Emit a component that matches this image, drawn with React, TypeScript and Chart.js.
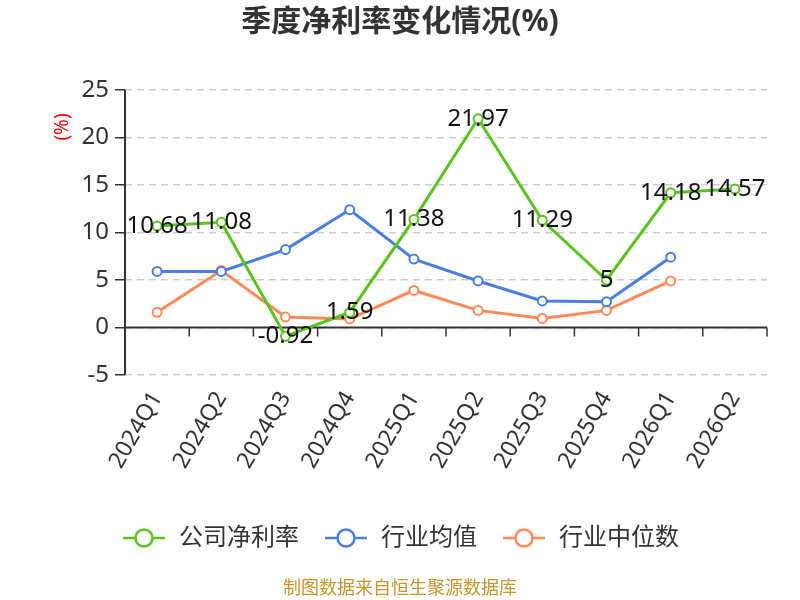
import React, { useEffect, useRef } from "react";
import { Chart, registerables } from "chart.js";

Chart.register(...registerables);

const categories = ["2024Q1", "2024Q2", "2024Q3", "2024Q4", "2025Q1", "2025Q2", "2025Q3", "2025Q4", "2026Q1", "2026Q2"];
const companyNetMargin = [10.68, 11.08, -0.92, 1.59, 11.38, 21.97, 11.29, 5, 14.18, 14.57];
const industryAverage = [5.9, 5.9, 8.2, 12.4, 7.2, 4.9, 2.8, 2.7, 7.4, null];
const industryMedian = [1.6, 6.0, 1.1, 0.9, 3.9, 1.8, 0.95, 1.8, 4.9, null];
const seriesNames = ["公司净利率", "行业均值", "行业中位数"];
const seriesColors = ["#5BC21E", "#4A7FE0", "#FF8A57"];
const titleText = "季度净利率变化情况(%)";
const footerText = "制图数据来自恒生聚源数据库";
const yUnit = "(%)";

const FONT = "'Noto Sans', 'Noto Sans CJK SC', sans-serif";

function makeIcon(color: string): HTMLCanvasElement {
  const c = document.createElement("canvas");
  c.width = 42;
  c.height = 22;
  const ctx = c.getContext("2d")!;
  ctx.strokeStyle = color;
  ctx.lineWidth = 2.5;
  ctx.beginPath();
  ctx.moveTo(0, 11);
  ctx.lineTo(42, 11);
  ctx.stroke();
  ctx.beginPath();
  ctx.arc(21, 11, 8.5, 0, Math.PI * 2);
  ctx.fillStyle = "#fff";
  ctx.fill();
  ctx.stroke();
  return c;
}

const overlay = {
  id: "overlay",
  beforeDatasetsDraw(chart: any) {
    const { ctx, chartArea, scales } = chart;
    const x = scales.x;
    const y = scales.y;
    const y0 = y.getPixelForValue(0);
    ctx.save();
    ctx.strokeStyle = "#333";
    ctx.lineWidth = 2;
    ctx.setLineDash([]);
    ctx.beginPath();
    ctx.moveTo(chartArea.left, y0);
    ctx.lineTo(chartArea.right, y0);
    ctx.stroke();
    const n = categories.length;
    const w = x.getPixelForValue(1) - x.getPixelForValue(0);
    const start = x.getPixelForValue(0) - w / 2;
    ctx.lineWidth = 1.5;
    for (let i = 0; i <= n; i++) {
      const px = start + i * w;
      ctx.beginPath();
      ctx.moveTo(px, y0);
      ctx.lineTo(px, y0 + 9);
      ctx.stroke();
    }
    ctx.lineWidth = 2;
    ctx.beginPath();
    ctx.moveTo(chartArea.left, chartArea.top);
    ctx.lineTo(chartArea.left, chartArea.bottom);
    ctx.stroke();
    ctx.restore();
  },
  afterDatasetsDraw(chart: any) {
    const { ctx } = chart;
    const meta = chart.getDatasetMeta(0);
    ctx.save();
    ctx.font = `24px ${FONT}`;
    ctx.fillStyle = "#111";
    ctx.textAlign = "center";
    ctx.textBaseline = "middle";
    meta.data.forEach((pt: any, i: number) => {
      const v = companyNetMargin[i];
      if (v == null) return;
      ctx.fillText(String(v), pt.x, pt.y);
    });
    ctx.restore();
  },
  afterDraw(chart: any) {
    const { ctx, chartArea } = chart;
    ctx.save();
    ctx.fillStyle = "#333";
    ctx.font = `bold 30px ${FONT}`;
    ctx.textAlign = "center";
    ctx.textBaseline = "middle";
    ctx.fillText(titleText, 400, 22);
    ctx.fillStyle = "#C9952C";
    ctx.font = `18px ${FONT}`;
    ctx.fillText(footerText, 400, 589);
    ctx.translate(chartArea.left - 62, chartArea.top + 37);
    ctx.rotate(-Math.PI / 2);
    ctx.fillStyle = "#E00";
    ctx.font = `19px ${FONT}`;
    ctx.fillText(yUnit, 0, 0);
    ctx.restore();
  },
};

export default function App() {
  const ref = useRef<HTMLCanvasElement>(null);
  useEffect(() => {
    if (!ref.current) return;
    const icons = seriesColors.map(makeIcon);
    const mk = (label: string, data: any[], color: string) => ({
      label,
      data,
      borderColor: color,
      backgroundColor: "#fff",
      borderWidth: 3,
      pointRadius: 4.5,
      pointBorderWidth: 2,
      pointBackgroundColor: "#fff",
      pointBorderColor: color,
      tension: 0,
      spanGaps: false,
    });
    const chart = new Chart(ref.current, {
      type: "line",
      data: {
        labels: categories,
        datasets: [
          mk(seriesNames[0], companyNetMargin, seriesColors[0]),
          mk(seriesNames[1], industryAverage, seriesColors[1]),
          mk(seriesNames[2], industryMedian, seriesColors[2]),
        ],
      },
      options: {
        responsive: false,
        animation: false,
        layout: { padding: { top: 90, left: 0, right: 0, bottom: 40 } },
        scales: {
          x: {
            offset: true,
            grid: { display: false, drawTicks: false },
            border: { display: false },
            ticks: {
              color: "#333",
              font: { size: 23, family: FONT },
              minRotation: 60,
              maxRotation: 60,
              padding: 12,
              autoSkip: false,
            },
            afterFit: (s: any) => {
              s.height = 127;
            },
          },
          y: {
            min: -5,
            max: 25,
            ticks: {
              stepSize: 5,
              color: "#333",
              font: { size: 24, family: FONT },
              padding: 6,
            },
            grid: {
              color: "#ccc",
              lineWidth: 1.5,
              tickColor: "#333",
              tickLength: 10,
              tickWidth: 1.5,
            },
            border: { display: false, dash: [7, 5] },
            afterFit: (s: any) => {
              s.width = 125;
            },
          },
          yRight: {
            position: "right",
            min: -5,
            max: 25,
            grid: { display: false, drawTicks: false },
            ticks: { display: false },
            border: { display: false },
            afterFit: (s: any) => {
              s.width = 33;
            },
          },
        },
        plugins: {
          title: { display: false },
          tooltip: { enabled: false },
          legend: {
            position: "bottom",
            labels: {
              usePointStyle: true,
              pointStyleWidth: 46,
              padding: 24,
              color: "#333",
              font: { size: 24, family: FONT },
              generateLabels: (c: any) => {
                const items = (Chart.defaults as any).plugins.legend.labels.generateLabels(c);
                items.forEach((it: any, i: number) => {
                  it.pointStyle = icons[i];
                });
                return items;
              },
            },
          },
        },
      },
      plugins: [overlay],
    });
    return () => chart.destroy();
  }, []);
  return (
    <div style={{ position: "absolute", left: 0, top: 0, width: 800, height: 600, background: "#fff" }}>
      <canvas ref={ref} width={800} height={600} style={{ display: "block" }} />
    </div>
  );
}
